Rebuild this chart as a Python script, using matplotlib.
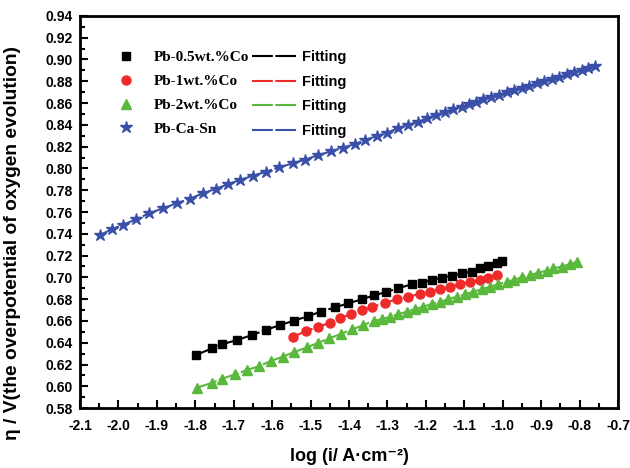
import numpy as np
import matplotlib.pyplot as plt
from matplotlib.ticker import MultipleLocator

# ---- data ----
x_05 = [-1.798, -1.757, -1.731, -1.692, -1.653, -1.617, -1.580, -1.543, -1.506, -1.474,
        -1.436, -1.402, -1.367, -1.335, -1.304, -1.273, -1.237, -1.211, -1.185, -1.159,
        -1.133, -1.107, -1.081, -1.059, -1.038, -1.016, -1.003]
y_05 = [0.6287, 0.6348, 0.6385, 0.6424, 0.6470, 0.6516, 0.6562, 0.6602, 0.6645, 0.6684,
        0.6725, 0.6762, 0.6798, 0.6835, 0.6865, 0.6899, 0.6936, 0.6951, 0.6976, 0.6997,
        0.7015, 0.7037, 0.7052, 0.7083, 0.7104, 0.7129, 0.7153]

x_1 = [-1.545, -1.512, -1.480, -1.449, -1.423, -1.396, -1.367, -1.339, -1.306, -1.276,
       -1.246, -1.215, -1.189, -1.163, -1.137, -1.111, -1.085, -1.059, -1.038, -1.016]
y_1 = [0.6455, 0.6507, 0.6547, 0.6583, 0.6624, 0.6663, 0.6700, 0.6730, 0.6767, 0.6798,
       0.6822, 0.6847, 0.6868, 0.6890, 0.6914, 0.6936, 0.6954, 0.6976, 0.6997, 0.7021]

x_2 = [-1.796, -1.757, -1.731, -1.697, -1.666, -1.633, -1.604, -1.573, -1.543, -1.510,
       -1.480, -1.451, -1.422, -1.391, -1.363, -1.335, -1.315, -1.293, -1.272, -1.250,
       -1.228, -1.207, -1.185, -1.163, -1.142, -1.120, -1.098, -1.077, -1.055, -1.033,
       -1.012, -0.990, -0.972, -0.951, -0.929, -0.907, -0.886, -0.868, -0.847, -0.825,
       -0.806]
y_2 = [0.5986, 0.6032, 0.6069, 0.6109, 0.6149, 0.6186, 0.6232, 0.6271, 0.6314, 0.6357,
       0.6400, 0.6440, 0.6480, 0.6523, 0.6562, 0.6602, 0.6615, 0.6639, 0.6663, 0.6684,
       0.6709, 0.6730, 0.6755, 0.6776, 0.6798, 0.6822, 0.6844, 0.6868, 0.6890, 0.6914,
       0.6936, 0.6960, 0.6976, 0.7000, 0.7021, 0.7043, 0.7061, 0.7083, 0.7098, 0.7122,
       0.7144]

x_pcs = [-2.048, -2.017, -1.988, -1.954, -1.920, -1.884, -1.848, -1.814, -1.780, -1.746,
         -1.715, -1.684, -1.650, -1.616, -1.582, -1.546, -1.515, -1.481, -1.447, -1.416,
         -1.384, -1.358, -1.327, -1.301, -1.273, -1.247, -1.220, -1.197, -1.174, -1.150,
         -1.129, -1.106, -1.088, -1.070, -1.051, -1.031, -1.010, -0.989, -0.971, -0.950,
         -0.932, -0.911, -0.893, -0.872, -0.854, -0.833, -0.815, -0.794, -0.778, -0.760]
y_pcs = [0.7389, 0.7441, 0.7483, 0.7533, 0.7588, 0.7634, 0.7680, 0.7722, 0.7772, 0.7814,
         0.7854, 0.7894, 0.7933, 0.7970, 0.8010, 0.8047, 0.8080, 0.8121, 0.8157, 0.8191,
         0.8224, 0.8261, 0.8298, 0.8328, 0.8369, 0.8399, 0.8429, 0.8461, 0.8491, 0.8521,
         0.8546, 0.8567, 0.8592, 0.8614, 0.8634, 0.8656, 0.8678, 0.8700, 0.8718, 0.8740,
         0.8760, 0.8781, 0.8800, 0.8822, 0.8842, 0.8864, 0.8883, 0.8904, 0.8920, 0.8941]

names = ["Pb-0.5wt.%Co", "Pb-1wt.%Co", "Pb-2wt.%Co", "Pb-Ca-Sn"]
colors = ["black", "#ee2a2a", "#5ab83c", "#3a50a8"]
markers = ["s", "o", "^", "*"]
msizes = [6, 6.5, 7, 9]

sans = ["Liberation Sans", "DejaVu Sans"]
serif = ["Liberation Serif", "DejaVu Serif"]
plt.rcParams['font.family'] = sans
plt.rcParams['font.weight'] = 'bold'

fig = plt.figure(figsize=(6.3, 4.68), dpi=100)
ax = fig.add_axes([0.127, 0.128, 0.854, 0.838])

data = [(x_05, y_05), (x_1, y_1), (x_2, y_2), (x_pcs, y_pcs)]
pts = []
fits = []
for (xs, ys), c, m, s, n in zip(data, colors, markers, msizes, names):
    ln, = ax.plot(xs, ys, color=c, lw=1.5, ls=(0, (10, 1.2)), zorder=2, label="Fitting")
    p, = ax.plot(xs, ys, ls="none", marker=m, ms=s, color=c, mec=c, zorder=3, label=n)
    pts.append(p)
    fits.append(ln)

ax.set_xlim(-2.1, -0.7)
ax.set_ylim(0.58, 0.94)
ax.xaxis.set_major_locator(MultipleLocator(0.1))
ax.xaxis.set_minor_locator(MultipleLocator(0.05))
ax.yaxis.set_major_locator(MultipleLocator(0.02))
ax.yaxis.set_minor_locator(MultipleLocator(0.01))
ax.xaxis.set_major_formatter(plt.FuncFormatter(lambda v, p: "%.1f" % v))
ax.yaxis.set_major_formatter(plt.FuncFormatter(lambda v, p: "%.2f" % v))
ax.tick_params(which="both", direction="in", top=False, right=False, width=1.5)
ax.tick_params(which="major", length=6, labelsize=10)
ax.tick_params(which="minor", length=3.5)
ax.tick_params(axis="x", pad=8)
ax.tick_params(axis="y", pad=5)
for sp in ax.spines.values():
    sp.set_linewidth(2)

ax.set_xlabel("log (i/ A\u00b7cm\u207b\u00b2)", fontsize=13, fontweight="bold", labelpad=11)
ax.set_ylabel("\u03b7 / V(the overpotential of oxygen evolution)", fontsize=13.8,
              fontweight="bold")
ax.yaxis.set_label_coords(-0.11, 0.42)

leg = ax.legend(pts + fits, names + ["Fitting"] * 4, ncol=2, frameon=False,
                loc="upper left", bbox_to_anchor=(0.045, 0.912), borderaxespad=0,
                borderpad=0, handlelength=3.0, handletextpad=0.4, columnspacing=0.2,
                labelspacing=0.72, numpoints=1, fontsize=10.5)
for i, t in enumerate(leg.get_texts()):
    if i < 4:
        t.set_fontfamily(serif)
        t.set_fontsize(11)
    t.set_fontweight("bold")

fig.savefig("out.png", dpi=100)
